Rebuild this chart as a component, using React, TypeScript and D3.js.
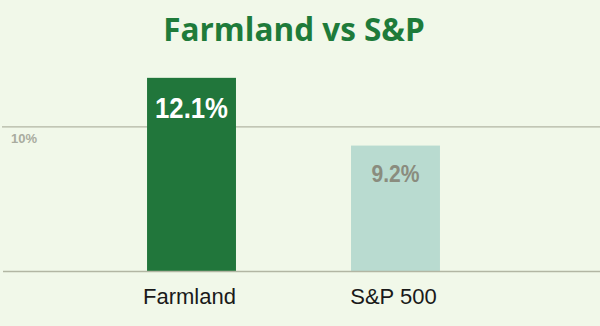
import React from "react";
import * as d3 from "d3";

const categories = ["Farmland", "S&P 500"];
const values = [12.1, 9.2];
const valueLabels = ["12.1%", "9.2%"];
const gridTicks = [10];
const gridTickLabels = ["10%"];
const title = "Farmland vs S&P";

const W = 600;
const H = 326;
const BASE_Y = 271;

export default function App() {
  const x = d3.scaleBand<string>().domain(categories).range([32, 555]).padding(0.564);
  const y = d3.scaleLinear().domain([3.83, 13.72]).range([BASE_Y, 40]);
  const barColors = ["#21763b", "#b9dbd0"];
  const valueColors = ["#ffffff", "#8a8c7e"];
  const valueSizes = [29, 24];
  const valueWidths = [73, 48];
  const valueOffsets = [40, 36];

  return (
    <div style={{ position: "fixed", left: 0, top: 0, width: W, height: H }}>
      <svg width={W} height={H} style={{ display: "block" }}>
        <rect width={W} height={H} fill="#f1f8e9" />
        <text
          x={294}
          y={41}
          textAnchor="middle"
          fontFamily="'Open Sans', Lato, sans-serif"
          fontWeight={700}
          fontSize={31.5}
          fill="#1e7b3a"
        >
          {title}
        </text>
        {gridTicks.map((t, i) => (
          <g key={t}>
            <line x1={2} x2={W} y1={y(t)} y2={y(t)} stroke="#b2b6a3" strokeWidth={1.2} />
            <text
              x={11}
              y={y(t) + 16.5}
              fontFamily="'Liberation Sans', Arial, sans-serif"
              fontWeight={700}
              fontSize={13}
              fill="#a9ac9f"
            >
              {gridTickLabels[i]}
            </text>
          </g>
        ))}
        {categories.map((c, i) => (
          <rect
            key={c}
            x={x(c)}
            y={y(values[i])}
            width={x.bandwidth()}
            height={BASE_Y - y(values[i])}
            fill={barColors[i]}
          />
        ))}
        <line x1={3} x2={W} y1={BASE_Y + 0.5} y2={BASE_Y + 0.5} stroke="#b2b6a3" strokeWidth={1.5} />
        {categories.map((c, i) => (
          <text
            key={c + "v"}
            x={(x(c) ?? 0) + x.bandwidth() / 2}
            y={y(values[i]) + valueOffsets[i]}
            textAnchor="middle"
            fontFamily="'Liberation Sans', Arial, sans-serif"
            fontWeight={700}
            fontSize={valueSizes[i]}
            fill={valueColors[i]}
            textLength={valueWidths[i]}
            lengthAdjust="spacingAndGlyphs"
          >
            {valueLabels[i]}
          </text>
        ))}
        {categories.map((c) => (
          <text
            key={c + "l"}
            x={(x(c) ?? 0) + x.bandwidth() / 2 - 2}
            y={303.5}
            textAnchor="middle"
            fontFamily="'Liberation Sans', Arial, sans-serif"
            fontSize={22}
            fill="#1a1a1a"
          >
            {c}
          </text>
        ))}
      </svg>
    </div>
  );
}
